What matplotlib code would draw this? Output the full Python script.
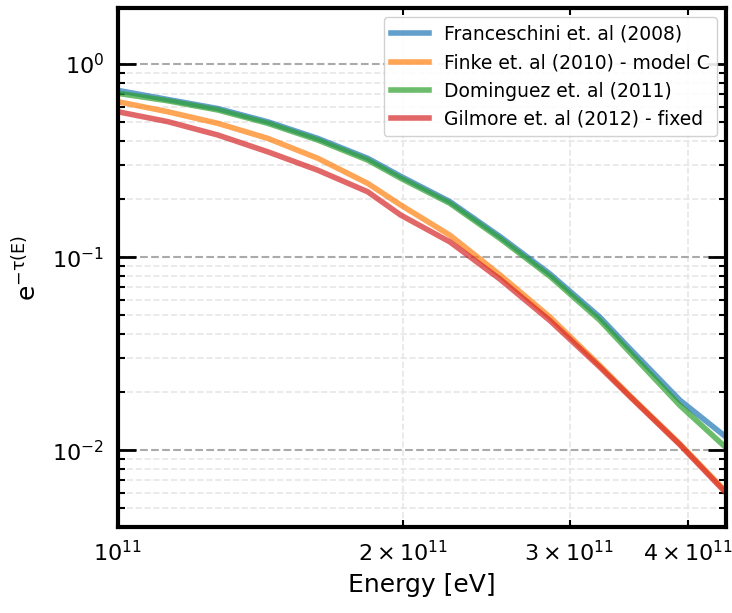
import numpy as np
import matplotlib
matplotlib.use("Agg")
import matplotlib.pyplot as plt

# energies in eV
energy = np.array([1.0, 1.129, 1.275, 1.44, 1.626, 1.836, 1.99, 2.242, 2.532,
                   2.859, 3.228, 3.473, 3.922, 4.39]) * 1e11

franceschini = [0.73, 0.655, 0.588, 0.502, 0.412, 0.325, 0.262, 0.194, 0.128,
                0.082, 0.049, 0.0336, 0.0182, 0.0117]
finke = [0.638, 0.566, 0.493, 0.412, 0.325, 0.241, 0.186, 0.130, 0.081,
         0.049, 0.0275, 0.0192, 0.0108, 0.0061]
dominguez = [0.705, 0.645, 0.578, 0.493, 0.404, 0.318, 0.256, 0.19, 0.125,
             0.0797, 0.0472, 0.0322, 0.0171, 0.0103]
gilmore = [0.566, 0.503, 0.429, 0.351, 0.282, 0.218, 0.165, 0.120, 0.077,
           0.047, 0.027, 0.019, 0.0107, 0.006]

labels = ["Franceschini et. al (2008)", "Finke et. al (2010) - model C",
          "Dominguez et. al (2011)", "Gilmore et. al (2012) - fixed"]
colors = ["tab:blue", "tab:orange", "tab:green", "tab:red"]

plt.rcParams["mathtext.default"] = "regular"
plt.rcParams["axes.unicode_minus"] = False

fig = plt.figure(figsize=(7.32, 6.13), dpi=100)
ax = fig.add_axes([0.161, 0.140, 0.831, 0.847])

for vals, lab, c in zip([franceschini, finke, dominguez, gilmore], labels, colors):
    ax.plot(energy, vals, color=c, lw=4, alpha=0.7, label=lab)

ax.set_xscale("log")
ax.set_yscale("log")
ax.set_xlim(1e11, 4.39e11)
ax.set_ylim(0.004, 1.95)

ax.grid(True, which="major", axis="y", ls="--", color="#aaaaaa", lw=1.5)
ax.grid(True, which="minor", axis="both", ls="--", color="#e6e6e6", lw=1.2)

for s in ax.spines.values():
    s.set_linewidth(3)

ax.tick_params(which="major", direction="in", length=13, width=2, top=True, right=True)
ax.tick_params(which="minor", direction="in", length=5, width=1.5, top=True, right=True)
ax.tick_params(axis="x", which="both", labelsize=16, pad=9)
ax.tick_params(axis="y", which="both", labelsize=16, pad=10)

ax.set_xlabel("Energy [eV]", fontsize=18, labelpad=6)
ax.set_ylabel(r"e$^{-\tau(E)}$", fontsize=18, labelpad=8)

ax.legend(loc="upper right", fontsize=13.5, handlelength=2.0, framealpha=0.9)

fig.savefig("out.png", dpi=100)
